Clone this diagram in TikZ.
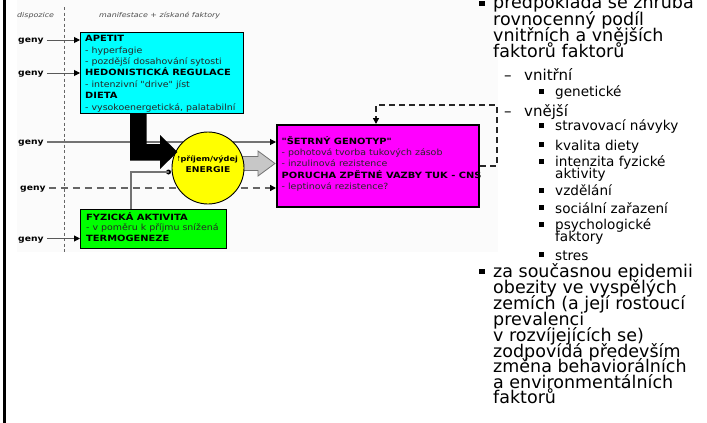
\documentclass[tikz,border=0pt]{standalone}
\usepackage{fontspec}
\setmainfont{DejaVu Sans}
\newfontfamily\diag[FakeStretch=1.11]{DejaVu Sans}
\newfontfamily\diagb[FakeStretch=1.15]{DejaVu Sans Bold}
\newfontfamily\diagi[FakeStretch=1.2]{DejaVu Sans Oblique}
\usetikzlibrary{arrows.meta}
\definecolor{cya}{HTML}{00FFFF}
\definecolor{grn}{HTML}{00FF00}
\definecolor{mag}{HTML}{FF00FF}
\definecolor{yel}{HTML}{FFFF00}
\begin{document}
\begin{tikzpicture}[x=1pt,y=-1pt,
  dtxt/.style={anchor=base west, inner sep=0pt, text=black!85, font=\diag\fontsize{8.5}{10}\selectfont},
  dbold/.style={anchor=base west, inner sep=0pt, text=black, font=\diagb\fontsize{8.6}{10}\selectfont},
  ital/.style={anchor=base west, inner sep=0pt, text=black!70, font=\diagi\fontsize{6.6}{8}\selectfont},
  geny/.style={anchor=west, inner sep=0pt, text height=5pt, text depth=0pt, font=\diagb\fontsize{8}{9}\selectfont},
  boxst/.style={draw=black, line width=1.3pt, anchor=north west, inner sep=0pt},
  tip/.style={-{Triangle[length=6pt,width=6pt,color=black]}},
  harrow/.style={tip, draw=black!65, line width=1pt, shorten <=3pt},
  gline/.style={draw=black!55, line width=1.1pt},
  gdash/.style={tip, draw=black!60, line width=1.4pt, dash pattern=on 7pt off 5pt, shorten <=3pt},
  fb/.style={tip, draw=black!85, line width=1.4pt, dash pattern=on 6pt off 4pt},
  mtxt/.style={anchor=base west, inner sep=0pt, font=\fontsize{17.5}{17.5}\selectfont},
  stxt/.style={anchor=base west, inner sep=0pt, font=\fontsize{15}{15}\selectfont},
  sstxt/.style={anchor=base west, inner sep=0pt, font=\fontsize{13.6}{13.6}\selectfont},
  mbul/.style={fill=black, inner sep=0pt, minimum size=5.5pt},
  sbul/.style={fill=black, inner sep=0pt, minimum size=4.8pt}
]
\useasboundingbox (0,0) rectangle (707,423);
\clip (0,0) rectangle (707,423);
\fill[white] (0,0) rectangle (707,423);
% diagram background and left bar
\fill[black!1.5] (17,0) rectangle (498,252);
\fill[black] (3,0) rectangle (6,423);
% header labels and dashed divider
\node[ital] (hd1) at (17,17) {dispozice};
\node[ital] (hd2) at (99,17) {manifestace + získané faktory};
\coordinate (vtop) at (64,7);
\coordinate (vbot) at (64,252);
\draw[black!60, line width=0.9pt, dash pattern=on 3pt off 2.5pt] (vtop) -- (vbot);

% boxes
\node[boxst, fill=cya, minimum width=163pt, minimum height=81pt] (cyan) at (80,32) {};
\node[boxst, fill=grn, minimum width=146pt, minimum height=39pt] (green) at (80,209) {};
\node[boxst, fill=mag, line width=2.2pt, minimum width=202pt, minimum height=82pt] (magenta) at (276,124) {};

% geny labels
\node[geny] (g1) at (18,40) {geny};
\node[geny] (g2) at (18,73) {geny};
\node[geny] (g3) at (18,142) {geny};
\node[geny] (g4) at (20,188) {geny};
\node[geny] (g5) at (18,238.5) {geny};

\draw[harrow] (g1.east) -- (g1.east -| cyan.west);
\draw[harrow] (g2.east) -- (g2.east -| cyan.west);
\draw[harrow] (g5.east) -- (g5.east -| green.west);
\draw[gline, tip, shorten <=3pt] (g3.east) -- (g3.east -| magenta.west);
\draw[gdash] (g4.east) -- (g4.east -| magenta.west);

% gray block arrow
\filldraw[fill=black!22, draw=black!55, line width=0.8pt]
  (240,156.5) -- (258,156.5) -- (258,151) -- (275,163.5) -- (258,176) -- (258,170.5) -- (240,170.5) -- cycle;

% energy circle
\node[circle, draw=black, line width=0.9pt, fill=yel, minimum size=72pt, inner sep=0pt] (energy) at (208,168) {};
\node[anchor=base, inner sep=0pt, font=\diagb\fontsize{7.1}{9}\selectfont] (e1) at (207.5,161.5) {\scalebox{0.5}[1]{↑}příjem/výdej};
\node[anchor=base, inner sep=0pt, font=\diagb\fontsize{8}{9}\selectfont] (e2) at (208,172.5) {ENERGIE};

% black bent arrow
\fill[black] (130,113) -- (146.5,113) -- (146.5,144) -- (160,144) -- (160,135) -- (177.5,152) -- (160,169) -- (160,160.5) -- (130,160.5) -- cycle;

% physical activity link with dot
\node[circle, fill=black, inner sep=0pt, minimum size=5pt] (dot) at (168.5,172) {};
\draw[gline] ([xshift=51pt]green.north west) |- (dot.center);

% feedback loop
\coordinate (fbc) at (497,105);
\draw[fb] (magenta.east) -| (fbc) -| ([xshift=100pt]magenta.north west);

% cyan box text
\node[dbold] (c1) at (85,41.7) {APETIT};
\node[dtxt]  (c2) at (85,53.1) {- hyperfagie};
\node[dtxt]  (c3) at (85,64.5) {- pozdější dosahování sytosti};
\node[dbold] (c4) at (85,75.9) {HEDONISTICKÁ REGULACE};
\node[dtxt]  (c5) at (85,87.3) {- intenzivní "drive" jíst};
\node[dbold] (c6) at (85,98.7) {DIETA};
\node[dtxt]  (c7) at (85,110.1) {- vysokoenergetická, palatabilní};

% green box text
\node[dbold] (f1) at (86,220) {FYZICKÁ AKTIVITA};
\node[dtxt]  (f2) at (86,230.8) {- v poměru k příjmu snížená};
\node[dbold] (f3) at (86,241.7) {TERMOGENEZE};

% magenta box text
\node[dbold] (m1) at (281.5,144.3) {"ŠETRNÝ GENOTYP"};
\node[dtxt]  (m2) at (281.5,155.5) {- pohotová tvorba tukových zásob};
\node[dtxt]  (m3) at (281.5,166.8) {- inzulinová rezistence};
\node[dbold] (m4) at (281.5,178) {PORUCHA ZPĚTNÉ VAZBY TUK - CNS};
\node[dtxt]  (m5) at (281.5,189.3) {- leptinová rezistence?};

% right column text
\node[mbul] (mb1) at (482,3.5) {};
\node[mtxt] (r1) at (493,9) {předpokládá se zhruba};
\node[mtxt] (r2) at (493,25) {rovnocenný podíl};
\node[mtxt] (r3) at (493,41) {vnitřních a vnějších};
\node[mtxt] (r4) at (493,57) {faktorů faktorů};
\node[stxt] (sd1) at (504,80) {–};
\node[stxt] (s1) at (524,80) {vnitřní};
\node[sbul] (sb1) at (541.5,91.5) {};
\node[sstxt] (ss1) at (555,96.7) {genetické};
\node[stxt] (sd2) at (504,116) {–};
\node[stxt] (s2) at (524,116) {vnější};
\node[sbul] (sb2) at (541.5,125.5) {};
\node[sstxt] (ss2) at (555,130.7) {stravovací návyky};
\node[sbul] (sb3) at (541.5,144.8) {};
\node[sstxt] (ss3) at (555,150) {kvalita diety};
\node[sbul] (sb4) at (541.5,161.5) {};
\node[sstxt] (ss4) at (555,166.7) {intenzita fyzické};
\node[sstxt] (ss4b) at (555,178.5) {aktivity};
\node[sbul] (sb5) at (541.5,190.5) {};
\node[sstxt] (ss5) at (555,195.7) {vzdělání};
\node[sbul] (sb6) at (541.5,207.8) {};
\node[sstxt] (ss6) at (555,213) {sociální zařazení};
\node[sbul] (sb7) at (541.5,224.3) {};
\node[sstxt] (ss7) at (555,229.5) {psychologické};
\node[sstxt] (ss7b) at (555,241.7) {faktory};
\node[sbul] (sb8) at (541.5,254.8) {};
\node[sstxt] (ss8) at (555,260) {stres};
\node[mbul] (mb2) at (482,271.5) {};
\node[mtxt] (q1) at (493,277) {za současnou epidemii};
\node[mtxt] (q2) at (493,293) {obezity ve vyspělých};
\node[mtxt] (q3) at (493,309) {zemích (a její rostoucí};
\node[mtxt] (q4) at (493,325) {prevalenci};
\node[mtxt] (q5) at (493,341) {v rozvíjejících se)};
\node[mtxt] (q6) at (493,357) {zodpovídá především};
\node[mtxt] (q7) at (493,372.5) {změna behaviorálních};
\node[mtxt] (q8) at (493,388) {a environmentálních};
\node[mtxt] (q9) at (493,403.5) {faktorů};
\end{tikzpicture}
\end{document}
